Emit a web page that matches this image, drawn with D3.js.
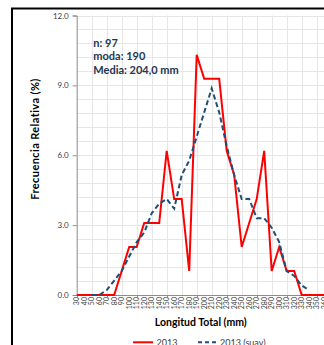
<!DOCTYPE html>
<html>
<head>
<meta charset="utf-8">
<script src="https://cdn.jsdelivr.net/npm/d3@7/dist/d3.min.js"></script>
<style>
  html, body { margin: 0; padding: 0; background: #fff; }
  svg { display: block; font-family: Lato, "Open Sans", "Liberation Sans", sans-serif; }
</style>
</head>
<body>
<svg id="chart" width="324" height="345"></svg>
<script>
// Length classes (mm)
const categories = [30, 40, 50, 60, 70, 80, 90, 100, 110, 120, 130, 140, 150, 160, 170,
  180, 190, 200, 210, 220, 230, 240, 250, 260, 270, 280, 290, 300, 310, 320, 330, 340, 350, 360];

// Relative frequency (%) per class, 2013
const freq2013 = [0, 0, 0, 0, 0, 0, 1.03, 2.06, 2.06, 3.09, 3.09, 3.09, 6.19, 4.12, 4.12,
  1.03, 10.31, 9.28, 9.28, 9.28, 6.19, 5.15, 2.06, 3.09, 4.12, 6.19, 1.03, 2.06, 1.03, 1.03, 0, 0, 0, 0];

// Smoothed relative frequency (%), 2013 (null = not plotted)
const freq2013Suav = [null, null, 0, 0, 0.21, 0.62, 1.03, 1.65, 2.27, 2.68, 3.51, 3.92, 4.12, 3.71, 5.15,
  5.77, 6.80, 7.84, 8.87, 7.84, 6.39, 5.15, 4.12, 4.12, 3.30, 3.30, 2.89, 2.27, 1.03, 0.82, 0.41, 0.21, null, null];

const yTicks = [0, 3, 6, 9, 12];
const stats = ["n: 97", "moda: 190", "Media: 204,0 mm"];
const seriesNames = ["2013", "2013 (suav)"];

const svg = d3.select("#chart");

const plot = { left: 76.7, top: 15.5, bottom: 295, step: 7.5 };
const plotRight = plot.left + plot.step * (categories.length - 1);

const x = d3.scalePoint().domain(categories).range([plot.left, plotRight]);
const y = d3.scaleLinear().domain([0, 12]).range([plot.bottom, plot.top]);

// Chart area frame
svg.append("rect")
  .attr("x", 12).attr("y", 8.5).attr("width", 340).attr("height", 360)
  .attr("fill", "none").attr("stroke", "#000").attr("stroke-width", 2);

// Gridlines
const grid = svg.append("g").attr("stroke", "#e6e6e6").attr("stroke-width", 1);
grid.selectAll("line.h")
  .data(d3.range(1, 21).map(i => i * 0.6))
  .join("line")
  .attr("x1", plot.left).attr("x2", 330)
  .attr("y1", d => Math.round(y(d)) + 0.5).attr("y2", d => Math.round(y(d)) + 0.5);
grid.selectAll("line.v")
  .data(categories.filter((c, i) => i % 2 === 0 && i > 0))
  .join("line")
  .attr("x1", d => Math.round(x(d)) + 0.5).attr("x2", d => Math.round(x(d)) + 0.5)
  .attr("y1", plot.top).attr("y2", plot.bottom);

// Y axis
const yAxis = svg.append("g")
  .attr("transform", `translate(${plot.left},0)`)
  .call(d3.axisLeft(y).tickValues(yTicks).tickFormat(d3.format(".1f")).tickSize(4).tickPadding(4));
yAxis.select(".domain").attr("stroke", "#8c8c8c");
yAxis.selectAll(".tick line").attr("stroke", "#8c8c8c");
yAxis.selectAll("text").attr("fill", "#404040").style("font-size", "8px")
  .style("font-family", "Lato, 'Open Sans', sans-serif");

// X axis
const xAxis = svg.append("g")
  .attr("transform", `translate(0,${plot.bottom})`)
  .call(d3.axisBottom(x).tickSize(0).tickPadding(2));
xAxis.select(".domain").attr("stroke", "#8c8c8c").attr("d", `M${plot.left},0.5H330`);
xAxis.selectAll(".tick text")
  .attr("fill", "#404040")
  .style("font-size", "7px")
  .style("font-family", "Lato, 'Open Sans', sans-serif")
  .attr("text-anchor", "end")
  .attr("dy", "0.32em")
  .attr("transform", "rotate(-90)")
  .attr("x", -2).attr("y", 0);
// major tick marks every fourth class
svg.append("g").attr("stroke", "#8c8c8c")
  .selectAll("line")
  .data(categories.filter((c, i) => i % 4 === 0))
  .join("line")
  .attr("x1", d => Math.round(x(d)) + 0.5).attr("x2", d => Math.round(x(d)) + 0.5)
  .attr("y1", plot.bottom).attr("y2", plot.bottom + 3.5);

// Series
const line = d3.line()
  .defined(d => d.v !== null)
  .x(d => x(d.c)).y(d => y(d.v));

svg.append("path")
  .datum(categories.map((c, i) => ({ c, v: freq2013[i] })))
  .attr("d", line)
  .attr("fill", "none").attr("stroke", "#ff0000").attr("stroke-width", 2)
  .attr("stroke-linejoin", "miter");

svg.append("path")
  .datum(categories.map((c, i) => ({ c, v: freq2013Suav[i] })))
  .attr("d", line)
  .attr("fill", "none").attr("stroke", "#1f4e79").attr("stroke-width", 2)
  .attr("stroke-dasharray", "5,3");

// Summary statistics
svg.append("g").selectAll("text")
  .data(stats)
  .join("text")
  .attr("x", 93.3).attr("y", (d, i) => 46.7 + i * 13.7)
  .attr("fill", "#253650").style("font-size", "11px").style("font-weight", "bold")
  .text(d => d);

// Axis titles
svg.append("text")
  .attr("transform", "translate(38.5,139) rotate(-90)")
  .attr("text-anchor", "middle")
  .style("font-size", "11px").style("font-weight", "bold").style("letter-spacing", "0.4px")
  .attr("fill", "#000")
  .text("Frecuencia Relativa (%)");

svg.append("text")
  .attr("x", 200.8).attr("y", 326)
  .attr("text-anchor", "middle")
  .style("font-size", "10.5px").style("font-weight", "bold").attr("fill", "#000")
  .text("Longitud Total (mm)");

// Legend
const legend = svg.append("g");
legend.append("line").attr("x1", 133).attr("x2", 153).attr("y1", 342.3).attr("y2", 342.3)
  .attr("stroke", "#ff0000").attr("stroke-width", 2);
legend.append("text").attr("x", 156.5).attr("y", 345.5)
  .style("font-size", "9px").attr("fill", "#404040").text(seriesNames[0]);
legend.append("line").attr("x1", 198).attr("x2", 217).attr("y1", 342.3).attr("y2", 342.3)
  .attr("stroke", "#1f4e79").attr("stroke-width", 2).attr("stroke-dasharray", "4,3");
legend.append("text").attr("x", 220).attr("y", 345.5)
  .style("font-size", "9px").attr("fill", "#404040").text(seriesNames[1]);
</script>
</body>
</html>
